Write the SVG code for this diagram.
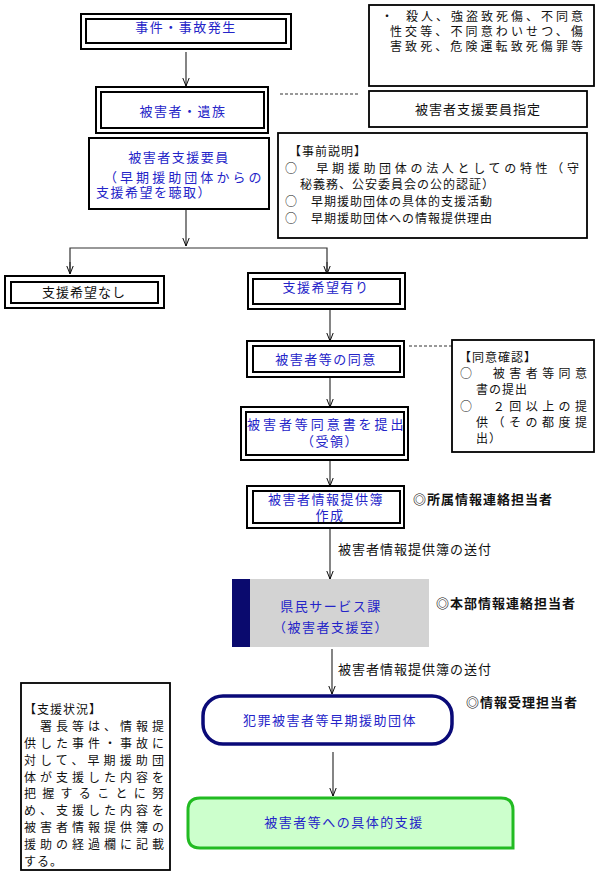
<svg xmlns="http://www.w3.org/2000/svg" width="600" height="878" viewBox="0 0 600 878">
<defs>
<marker id="ar" viewBox="0 0 10 10" refX="10" refY="5" markerWidth="8" markerHeight="8" markerUnits="userSpaceOnUse" orient="auto"><path d="M0,1 L10,5 L0,9" fill="none" stroke="#000" stroke-width="1.2"/></marker>
<style>
text{font-family:"Noto Sans CJK JP","Noto Sans CJK SC",sans-serif;font-size:13px}
.b{fill:#2424c8;letter-spacing:1.5px}
.k{fill:#111;letter-spacing:1px}
.n{font-size:12px}
.c{text-anchor:middle}
.box{fill:#fff;stroke:#000;stroke-width:2}
.thin{fill:#fff;stroke:#000;stroke-width:1.8}
.ln{stroke:#333;stroke-width:1.2;fill:none}
</style>
</defs>
<rect width="600" height="878" fill="#fff"/>
<g id="connectors">
<line class="ln" x1="186" y1="52" x2="186" y2="86" marker-end="url(#ar)"/>
<line class="ln" x1="280" y1="94" x2="360" y2="94" stroke-dasharray="3,2"/>
<line class="ln" x1="186" y1="209" x2="186" y2="246" marker-end="url(#ar)"/>
<polyline class="ln" points="70,273 70,248 327,248 327,273"/>
<line class="ln" x1="70" y1="262" x2="70" y2="274" marker-end="url(#ar)"/>
<line class="ln" x1="327" y1="262" x2="327" y2="274" marker-end="url(#ar)"/>
<line class="ln" x1="330" y1="309" x2="330" y2="341" marker-end="url(#ar)"/>
<line class="ln" x1="409" y1="346" x2="452" y2="346" stroke-dasharray="3,2"/>
<line class="ln" x1="330" y1="377" x2="330" y2="407" marker-end="url(#ar)"/>
<line class="ln" x1="330" y1="460" x2="330" y2="486" marker-end="url(#ar)"/>
<line class="ln" x1="330" y1="528" x2="330" y2="579" marker-end="url(#ar)"/>
<line class="ln" x1="332" y1="649" x2="332" y2="694" marker-end="url(#ar)"/>
<line class="ln" x1="333" y1="752" x2="333" y2="796" marker-end="url(#ar)"/>
<text class="k" x="338" y="554">被害者情報提供簿の送付</text>
<text class="k" x="338" y="674">被害者情報提供簿の送付</text>
</g>
<g id="n1"><rect class="box" x="81" y="14" width="210" height="35"/><rect class="box" x="86" y="19" width="200" height="24"/><text class="b c" x="186" y="32">事件・事故発生</text></g>
<g id="note1"><rect class="thin" x="369" y="5" width="225" height="81"/>
<text class="k n" x="381" y="21">・</text>
<text class="k n" x="406" y="21" textLength="178" lengthAdjust="spacing">殺人、強盗致死傷、不同意</text>
<text class="k n" x="390" y="36" textLength="194" lengthAdjust="spacing">性交等、不同意わいせつ、傷</text>
<text class="k n" x="390" y="51" textLength="194" lengthAdjust="spacing">害致死、危険運転致死傷罪等</text></g>
<g id="n2"><rect class="box" x="96" y="87" width="172" height="46"/><rect class="box" x="101" y="92" width="163" height="36"/><text class="b c" x="183" y="116">被害者・遺族</text></g>
<g id="n2b"><rect class="thin" x="369" y="91" width="218" height="36"/><text class="k c" x="478" y="114" letter-spacing="3">被害者支援要員指定</text></g>
<g id="n3"><rect class="box" x="89" y="138" width="180" height="71"/>
<text class="b c" x="179" y="162">被害者支援要員</text>
<text class="b" x="104" y="182" textLength="159" lengthAdjust="spacing">（早期援助団体からの</text>
<text class="b" x="96" y="197">支援希望を聴取）</text></g>
<g id="note2"><rect class="thin" x="278" y="133" width="309" height="105"/>
<text class="k n" x="289" y="156">【事前説明】</text>
<text class="k n" x="285" y="173" textLength="295" lengthAdjust="spacing">○　早期援助団体の法人としての特性（守</text>
<text class="k n" x="300" y="189">秘義務、公安委員会の公的認証）</text>
<text class="k n" x="285" y="206">○　早期援助団体の具体的支援活動</text>
<text class="k n" x="285" y="223">○　早期援助団体への情報提供理由</text></g>
<g id="n4"><rect class="box" x="5" y="276" width="159" height="32"/><rect class="box" x="11" y="282" width="147" height="21"/><text class="k c" x="84" y="297" letter-spacing="2">支援希望なし</text></g>
<g id="n5"><rect class="box" x="248" y="273" width="157" height="36"/><rect class="box" x="253" y="279" width="147" height="25"/><text class="b c" x="326" y="292">支援希望有り</text></g>
<g id="n6"><rect class="box" x="247" y="341" width="157" height="36"/><rect class="box" x="253" y="346" width="147" height="26"/><text class="b c" x="326" y="364">被害者等の同意</text></g>
<g id="note3"><rect class="thin" x="452" y="340" width="142" height="112"/>
<text class="k n" x="459" y="362">【同意確認】</text>
<text class="k n" x="460" y="378" textLength="128" lengthAdjust="spacing">○　被害者等同意</text>
<text class="k n" x="476" y="394">書の提出</text>
<text class="k n" x="460" y="411" textLength="128" lengthAdjust="spacing">○　２回以上の提</text>
<text class="k n" x="476" y="427" textLength="112" lengthAdjust="spacing">供（その都度提</text>
<text class="k n" x="476" y="443">出）</text></g>
<g id="n7"><rect class="box" x="241" y="407" width="167" height="53"/><rect class="box" x="246" y="412" width="158" height="43"/>
<text class="b" x="247" y="429" textLength="158" lengthAdjust="spacing">被害者等同意書を提出</text>
<text class="b c" x="330" y="446">（受領）</text></g>
<g id="n8"><rect class="box" x="247" y="486" width="157" height="42"/><rect class="box" x="253" y="491" width="147" height="32"/>
<text class="b c" x="326" y="504">被害者情報提供簿</text>
<text class="b c" x="330" y="520">作成</text>
<text class="k" x="413" y="504" font-weight="bold">◎所属情報連絡担当者</text></g>
<g id="n9"><rect x="232" y="579" width="18" height="68" fill="#0a0a6e"/><rect x="250" y="579" width="179" height="68" fill="#d3d3d3"/>
<text class="b c" x="331" y="611">県民サービス課</text>
<text class="b c" x="331" y="632">（被害者支援室）</text>
<text class="k" x="436" y="608" font-weight="bold">◎本部情報連絡担当者</text></g>
<g id="n10"><rect x="203" y="696" width="249" height="48" rx="20" fill="#fff" stroke="#0a0a78" stroke-width="3.5"/>
<text class="b c" x="330" y="725">犯罪被害者等早期援助団体</text>
<text class="k" x="466" y="707" font-weight="bold">◎情報受理担当者</text></g>
<g id="n11"><path d="M200,798 H501 Q513,798 513,810 V848 H200 Q188,848 188,836 V810 Q188,798 200,798 Z" fill="#ccffcc" stroke="#22bb22" stroke-width="3"/>
<text class="b c" x="344" y="827">被害者等への具体的支援</text></g>
<g id="note4"><rect class="thin" x="21" y="683" width="149" height="187"/>
<text class="k n" x="24" y="714">【支援状況】</text>
<text class="k n" x="24" y="731" textLength="141" lengthAdjust="spacing">　署長等は、情報提</text>
<text class="k n" x="24" y="748" textLength="141" lengthAdjust="spacing">供した事件・事故に</text>
<text class="k n" x="24" y="765" textLength="141" lengthAdjust="spacing">対して、早期援助団</text>
<text class="k n" x="24" y="782" textLength="141" lengthAdjust="spacing">体が支援した内容を</text>
<text class="k n" x="24" y="798" textLength="141" lengthAdjust="spacing">把握することに努</text>
<text class="k n" x="24" y="815" textLength="141" lengthAdjust="spacing">め、支援した内容を</text>
<text class="k n" x="24" y="832" textLength="141" lengthAdjust="spacing">被害者情報提供簿の</text>
<text class="k n" x="24" y="849" textLength="141" lengthAdjust="spacing">援助の経過欄に記載</text>
<text class="k n" x="24" y="866">する。</text></g>
</svg>
